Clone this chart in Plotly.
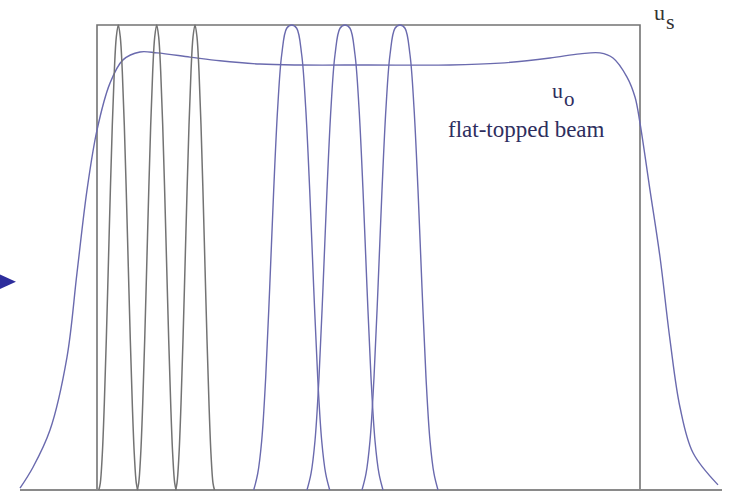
import plotly.graph_objects as go

# Horizontal unit: one step per screen pixel, aperture edge at 0.
APERTURE_X = [0, 543]
APERTURE_TOP = 1.0
BASELINE_X = [-77, 625]

# Flat-topped output beam u_o (sampled profile)
beam_x = [-77, -64, -47, -30, -20, -10, 0, 13, 26, 43, 60, 93, 123, 163, 203,
          272, 353, 403, 453, 483, 503, 516, 530, 538, 543, 553, 563, 573,
          583, 596, 621]
beam_y = [0.004, 0.049, 0.129, 0.286, 0.467, 0.645, 0.774, 0.875, 0.925,
          0.942, 0.940, 0.931, 0.923, 0.916, 0.914, 0.914, 0.914, 0.918,
          0.929, 0.938, 0.940, 0.929, 0.888, 0.845, 0.789, 0.645, 0.501,
          0.323, 0.178, 0.080, 0.011]

# Narrow beamlets (grey) and wider beamlets (blue): centres and half-profiles
narrow_centres = [21.3, 59.7, 98.0]
narrow_offset = [0, 2, 4, 6, 8, 10, 12, 14, 16, 18, 19.5]
narrow_level = [1.0, 0.974, 0.90, 0.785, 0.64, 0.48, 0.323, 0.185, 0.077,
                0.015, 0.0]

wide_centres = [194.7, 248.0, 303.0]
wide_offset = [0, 5, 10, 14, 18, 22, 26, 30, 34, 38]
wide_level = [1.0, 0.993, 0.936, 0.822, 0.645, 0.435, 0.242, 0.106, 0.035, 0.0]

GREY = "#737373"
BLUE = "#6a6aae"
TEXT = "#2e2e5e"


def full_profile(offsets, levels):
    xs = [-o for o in reversed(offsets[1:])] + list(offsets)
    ys = list(reversed(levels[1:])) + list(levels)
    return xs, ys


fig = go.Figure()

fig.add_trace(go.Scatter(x=beam_x, y=beam_y, mode="lines",
                         line=dict(color=BLUE, width=1.4, shape="spline"),
                         hoverinfo="skip"))

nx, ny = full_profile(narrow_offset, narrow_level)
for c in narrow_centres:
    fig.add_trace(go.Scatter(x=[c + v for v in nx], y=ny, mode="lines",
                             line=dict(color=GREY, width=1.5, shape="spline"),
                             hoverinfo="skip"))

wx, wy = full_profile(wide_offset, wide_level)
for c in wide_centres:
    fig.add_trace(go.Scatter(x=[c + v for v in wx], y=wy, mode="lines",
                             line=dict(color=BLUE, width=1.4, shape="spline"),
                             hoverinfo="skip"))

# Target aperture u_s and baseline
fig.add_shape(type="rect", x0=APERTURE_X[0], x1=APERTURE_X[1], y0=0,
              y1=APERTURE_TOP, line=dict(color=GREY, width=1.6),
              layer="below")
fig.add_shape(type="line", x0=BASELINE_X[0], x1=BASELINE_X[1], y0=0, y1=0,
              line=dict(color="#8a8a8a", width=2), layer="below")

# Pointer triangle at the left edge
fig.add_shape(type="path", xref="paper", yref="paper",
              path="M -0.01 0.449 L 0.0219 0.4274 L -0.01 0.4055 Z",
              fillcolor="#2d2d9c", line=dict(width=0))

SERIF = "Liberation Serif"


def label(text, px, py, size, color, box_h=None):
    fig.add_annotation(text=text, xref="paper", yref="paper",
                       x=px / 729, y=1 - py / 492, height=box_h,
                       xanchor="center", yanchor="middle", showarrow=False,
                       font=dict(family=SERIF, size=size, color=color))


# u_s
label("u", 659, 12, 22, "#333333", box_h=20)
label("s", 670.5, 21, 22, "#333333", box_h=20)
# u_o
label("u", 557.5, 91, 22, TEXT)
label("o", 569, 99, 21, TEXT)
label("flat-topped beam", 526.5, 130, 23, TEXT)

fig.update_layout(
    width=729, height=492,
    margin=dict(l=0, r=0, t=0, b=0),
    paper_bgcolor="white", plot_bgcolor="white",
    showlegend=False,
    xaxis=dict(range=[-97, 632], visible=False, fixedrange=True),
    yaxis=dict(range=[-2 / 465, 490 / 465], visible=False, fixedrange=True),
)

fig.write_html("out.html")
